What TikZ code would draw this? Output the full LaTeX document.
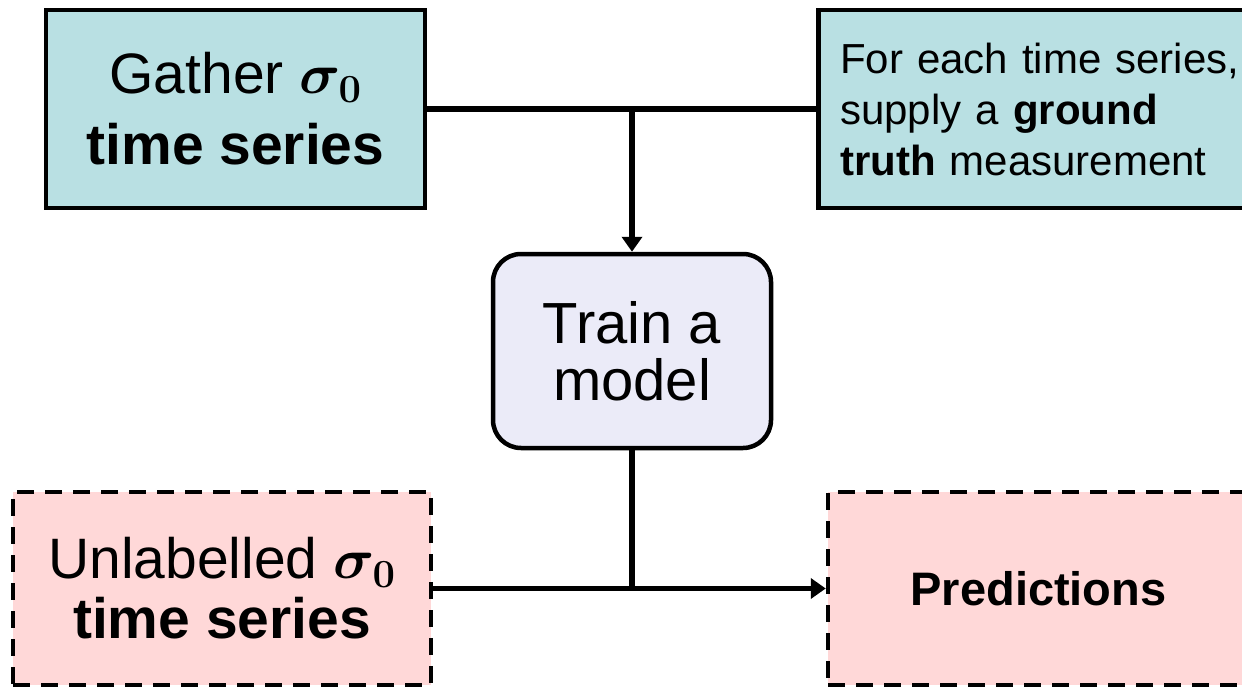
\RequirePackage{fix-cm}
\documentclass[tikz,border=0pt]{standalone}
\usepackage{fontspec}
\setmainfont{Liberation Sans}
\usetikzlibrary{arrows.meta}
\definecolor{tealfill}{HTML}{B9E0E3}
\definecolor{lavfill}{HTML}{EBEBF8}
\definecolor{pinkfill}{HTML}{FFD8D8}
\begin{document}
\begin{tikzpicture}[x=1pt,y=-1pt,
  tbox/.style={draw=black, line width=4.5pt, fill=tealfill, inner sep=0pt, align=center},
  mbox/.style={draw=black, line width=4.5pt, fill=lavfill, rounded corners=28pt, inner sep=0pt, align=center},
  pbox/.style={draw=black, line width=4.5pt, fill=pinkfill, dash pattern=on 17pt off 11pt, inner sep=0pt, align=center},
  conn/.style={draw=black, line width=5.5pt},
  tip/.style={-{Triangle[width=20pt,length=15pt]}},
]
\useasboundingbox (0,0) rectangle (1242,687);
\clip (0,0) rectangle (1242,687);
\node[tbox, minimum width=379pt, minimum height=198pt, font=\fontsize{57}{71}\selectfont] (tl) at (235.5,109)
  {Gather {\boldmath$\sigma_0$}\\\textbf{time series}};
\node[tbox, anchor=west, text width=416pt, inner xsep=22pt, minimum height=198pt, align=left, font=\fontsize{42}{51}\selectfont] (tr) at (816,109)
  {For each time series,\\supply a \textbf{ground}\\\textbf{truth} measurement};
\node[mbox, minimum width=278pt, minimum height=194pt, font=\fontsize{58}{57}\selectfont] (model) at (632,351)
  {Train a\\model};
\node[pbox, minimum width=418pt, minimum height=193pt, font=\fontsize{57}{60}\selectfont] (bl) at (222,588.5)
  {Unlabelled {\boldmath$\sigma_0$}\\\textbf{time series}};
\node[pbox, minimum width=421pt, minimum height=193pt, font=\fontsize{47}{55}\selectfont] (br) at (1038.5,588.5)
  {\textbf{Predictions}};
\coordinate (j1) at (model.north |- tl.east);
\coordinate (j2) at (model.south |- bl.east);
\draw[conn] (tl.east) -- (tr.west);
\draw[conn, tip] (j1) -- (model.north);
\draw[conn] (model.south) -- (j2);
\draw[conn, tip] (bl.east) -- (br.west);
\end{tikzpicture}
\end{document}
